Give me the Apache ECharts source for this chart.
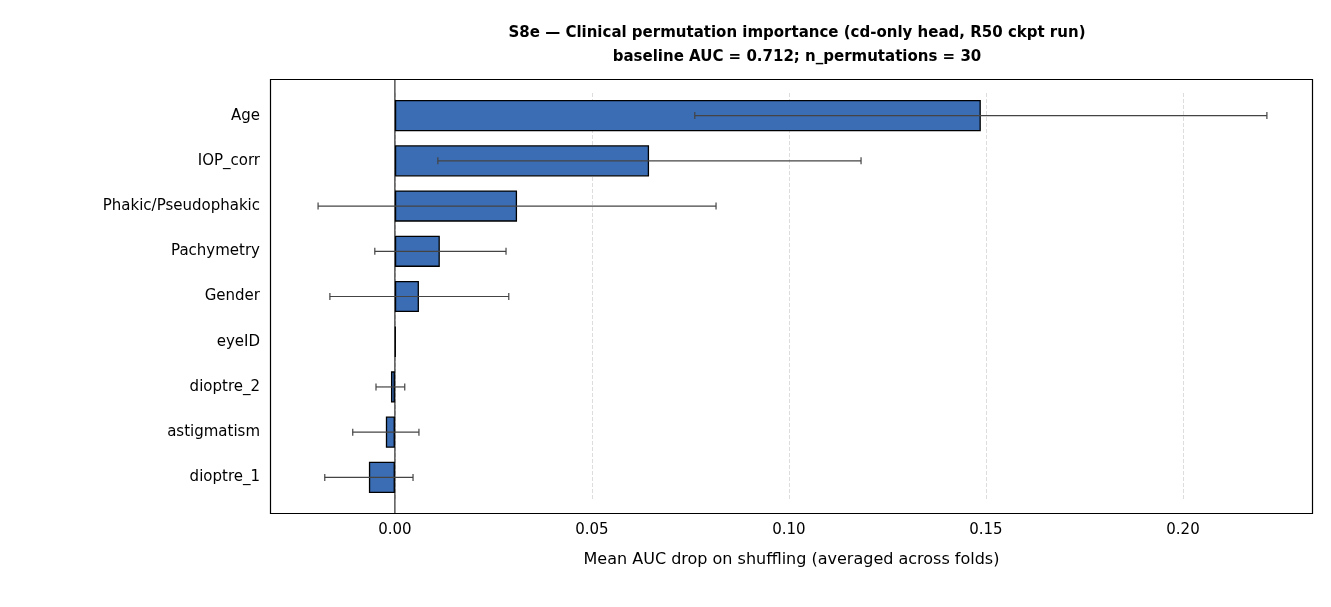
<!DOCTYPE html>
<html><head><meta charset="utf-8">
<script src="https://cdn.jsdelivr.net/npm/echarts@6/dist/echarts.min.js"></script>
<style>html,body{margin:0;padding:0;background:#fff}#c{width:1331px;height:607px}</style>
</head><body><div id="c"></div>
<script>
var features = ['Age', 'IOP_corr', 'Phakic/Pseudophakic', 'Pachymetry', 'Gender', 'eyeID', 'dioptre_2', 'astigmatism', 'dioptre_1'];
var meanDrop = [0.1487, 0.0645, 0.0310, 0.0114, 0.0061, 0.0002, -0.0010, -0.0023, -0.0066];
var errLow = [0.0761, 0.0109, -0.0195, -0.0051, -0.0165, null, -0.0048, -0.0107, -0.0178];
var errHigh = [0.2213, 0.1183, 0.0815, 0.0282, 0.0289, null, 0.0025, 0.0061, 0.0046];
var xTicks = [0, 0.05, 0.10, 0.15, 0.20];

var chart = echarts.init(document.getElementById('c'));
var font = 'DejaVu Sans';
var errData = [];
for (var i = 0; i < features.length; i++) {
  if (errLow[i] !== null) errData.push([errLow[i], errHigh[i], i]);
}
var option = {
  animation: false,
  textStyle: {fontFamily: font},
  title: {
    text: 'S8e — Clinical permutation importance (cd-only head, R50 ckpt run)\nbaseline AUC = 0.712; n_permutations = 30',
    left: 792, top: 16, textAlign: 'center',
    textStyle: {fontFamily: font, fontSize: 15, fontWeight: 'bold', color: '#000', lineHeight: 24}
  },
  // frame of the plot area (matplotlib-style box)
  graphic: [{
    type: 'rect', z: 100, silent: true,
    shape: {x: 270.5, y: 79.5, width: 1042, height: 434},
    style: {fill: 'none', stroke: '#000', lineWidth: 1.2}
  }],
  grid: {left: 270, right: 18, top: 93, bottom: 107},
  xAxis: {
    type: 'value', min: -0.0317, max: 0.233, offset: 14,
    name: 'Mean AUC drop on shuffling (averaged across folds)',
    nameLocation: 'middle', nameGap: 38,
    nameTextStyle: {fontFamily: font, fontSize: 16, color: '#000'},
    axisLine: {show: false},
    axisTick: {customValues: xTicks, length: 5, lineStyle: {color: '#000'}},
    axisLabel: {customValues: xTicks, fontSize: 15, color: '#000', margin: 9,
      formatter: function (v) { return v.toFixed(2); }},
    splitLine: {show: true, lineStyle: {type: 'dashed', color: '#ddd'}}
  },
  yAxis: {
    type: 'category', data: features, inverse: true,
    axisLine: {show: false, onZero: false},
    axisTick: {alignWithLabel: true, length: 5, lineStyle: {color: '#000'}},
    axisLabel: {fontSize: 15, color: '#000', margin: 10}
  },
  series: [
    {
      type: 'bar', data: meanDrop, barWidth: '69%',
      itemStyle: {color: '#3a6db4', borderColor: '#000', borderWidth: 1.3},
      markLine: {
        silent: true, symbol: 'none', label: {show: false},
        lineStyle: {color: '#000', width: 1, type: 'solid'},
        data: [[{coord: [0, -1]}, {coord: [0, 9]}]]
      }
    },
    {
      type: 'custom', data: errData, z: 5,
      renderItem: function (params, api) {
        var y = api.value(2);
        var p1 = api.coord([api.value(0), y]);
        var p2 = api.coord([api.value(1), y]);
        var st = {stroke: '#444', lineWidth: 1.2};
        return {type: 'group', children: [
          {type: 'line', shape: {x1: p1[0], y1: p1[1], x2: p2[0], y2: p2[1]}, style: st},
          {type: 'line', shape: {x1: p1[0], y1: p1[1] - 3.5, x2: p1[0], y2: p1[1] + 3.5}, style: st},
          {type: 'line', shape: {x1: p2[0], y1: p2[1] - 3.5, x2: p2[0], y2: p2[1] + 3.5}, style: st}
        ]};
      }
    }
  ]
};
chart.setOption(option);
// vertical zero line spanning the full frame
chart.setOption({graphic: [{
  type: 'rect', z: 100, silent: true,
  shape: {x: 270.5, y: 79.5, width: 1042, height: 434},
  style: {fill: 'none', stroke: '#000', lineWidth: 1.2}
}, {
  type: 'line', z: 4, silent: true,
  shape: {x1: chart.convertToPixel({xAxisIndex: 0}, 0), y1: 79, x2: chart.convertToPixel({xAxisIndex: 0}, 0), y2: 514},
  style: {stroke: '#000', lineWidth: 1}
}]});
</script></body></html>
